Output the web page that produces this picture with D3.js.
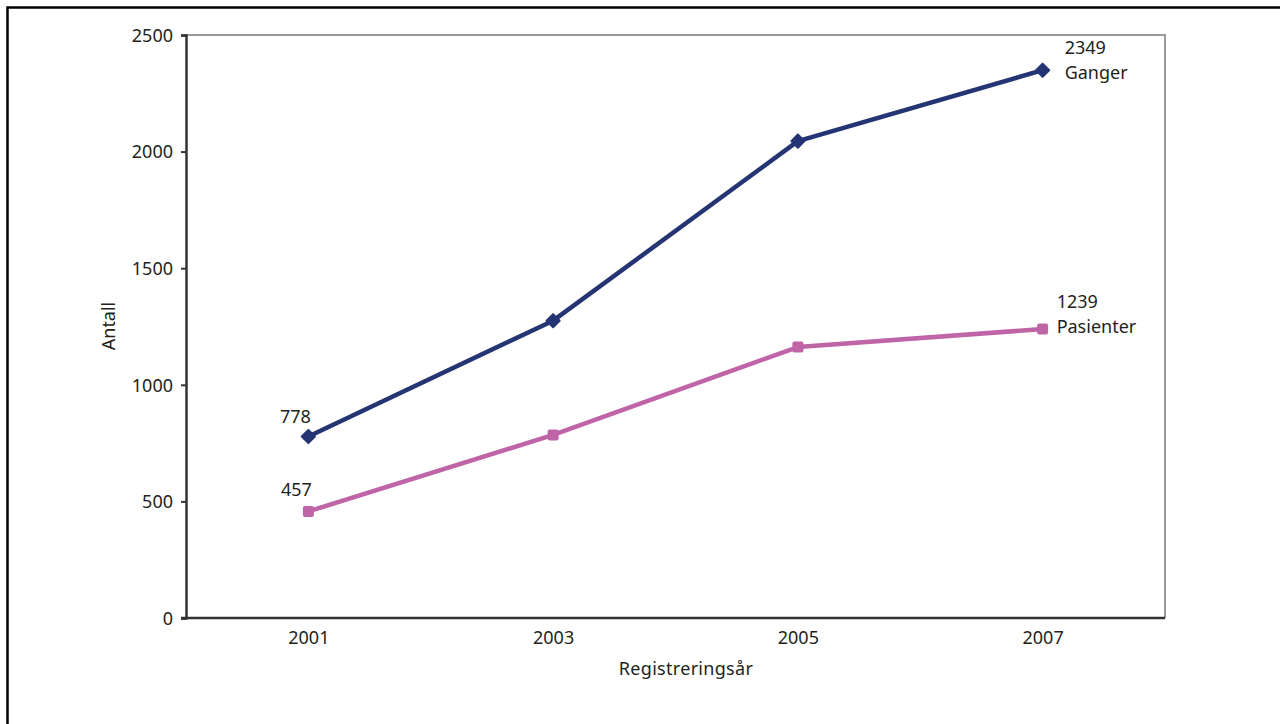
<!DOCTYPE html>
<html><head><meta charset="utf-8">
<script src="https://cdn.jsdelivr.net/npm/d3@7"></script>
<style>
html,body{margin:0;padding:0;background:#fff;}
svg{display:block;}
text{font-family:"Noto Sans",sans-serif;fill:#231f20;}
</style></head>
<body>
<svg id="c" width="1280" height="724"></svg>
<script>
const years = ["2001","2003","2005","2007"];
const ganger = [778, 1275, 2045, 2349];
const pasienter = [457, 785, 1162, 1239];
const yTicks = [0, 500, 1000, 1500, 2000, 2500];
const seriesNames = ["Ganger", "Pasienter"];

const svg = d3.select("#c");
const m = {l:186, t:35, r:1165, b:618};
const fs = "18px";

// outer frame
svg.append("rect").attr("x",7.5).attr("y",7.5).attr("width",1400).attr("height",900)
  .attr("fill","none").attr("stroke","#000").attr("stroke-width",2.5);

const x = d3.scalePoint().domain(years).range([m.l, m.r]).padding(0.5);
const y = d3.scaleLinear().domain([0,2500]).range([m.b, m.t]);

// plot frame top/right (gray)
svg.append("path").attr("d",`M${m.l},${m.t}H${m.r}V${m.b}`)
  .attr("fill","none").attr("stroke","#9a9a9a").attr("stroke-width",2);

// y axis
const ya = svg.append("g").attr("transform",`translate(${m.l},0)`)
  .call(d3.axisLeft(y).tickValues(yTicks).tickSize(5).tickPadding(8).tickFormat(d3.format("d")));
ya.select(".domain").attr("stroke","#333").attr("stroke-width",2.5);
ya.selectAll(".tick line").attr("stroke","#333").attr("stroke-width",2);
ya.selectAll(".tick text").style("font-size",fs).attr("dy","0.35em");

// x axis
const xa = svg.append("g").attr("transform",`translate(0,${m.b})`)
  .call(d3.axisBottom(x).tickSize(0).tickPadding(13));
xa.select(".domain").attr("d",`M${m.l-5},0H${m.r}`).attr("stroke","#333").attr("stroke-width",2.5);
xa.selectAll(".tick text").style("font-size",fs).attr("dy","0.71em");

// axis titles
svg.append("text").attr("x",686).attr("y",675).attr("text-anchor","middle")
  .style("font-size",fs).style("letter-spacing","0.3px").text("Registreringsår");
svg.append("text").attr("transform","translate(115,326) rotate(-90)").attr("text-anchor","middle")
  .style("font-size",fs).text("Antall");

const line = d3.line().x((d,i)=>x(years[i])).y(d=>y(d));
const colors = ["#253574","#c064a8"];

svg.append("path").datum(ganger).attr("d",line).attr("fill","none")
  .attr("stroke",colors[0]).attr("stroke-width",4.5).attr("stroke-linejoin","round");
svg.append("path").datum(pasienter).attr("d",line).attr("fill","none")
  .attr("stroke",colors[1]).attr("stroke-width",4.5).attr("stroke-linejoin","round");

svg.selectAll(".dia").data(ganger).enter().append("path")
  .attr("transform",(d,i)=>`translate(${x(years[i])},${y(d)})`)
  .attr("d",d3.symbol().type(d3.symbolDiamond2).size(110))
  .attr("fill",colors[0]).attr("stroke",colors[0]).attr("stroke-width",2).attr("stroke-linejoin","round");
svg.selectAll(".sq").data(pasienter).enter().append("rect")
  .attr("x",(d,i)=>x(years[i])-5.5).attr("y",d=>y(d)-5.5).attr("width",11).attr("height",11)
  .attr("rx",2).attr("fill",colors[1]);

// data labels
svg.append("text").attr("x",x(years[0])-13).attr("y",y(ganger[0])-14).attr("text-anchor","middle").style("font-size",fs).text(ganger[0]);
svg.append("text").attr("x",x(years[0])-12).attr("y",y(pasienter[0])-15).attr("text-anchor","middle").style("font-size",fs).text(pasienter[0]);

function stacked(px, py, l1, l2, gap){
  const t = svg.append("text").style("font-size",fs);
  t.append("tspan").attr("x",px).attr("y",py).text(l1);
  t.append("tspan").attr("x",px).attr("y",py+gap).text(l2);
}
stacked(x(years[3])+22, y(ganger[3])-16, ganger[3], seriesNames[0], 25);
stacked(x(years[3])+14, y(pasienter[3])-21, pasienter[3], seriesNames[1], 25);
</script>
</body></html>
